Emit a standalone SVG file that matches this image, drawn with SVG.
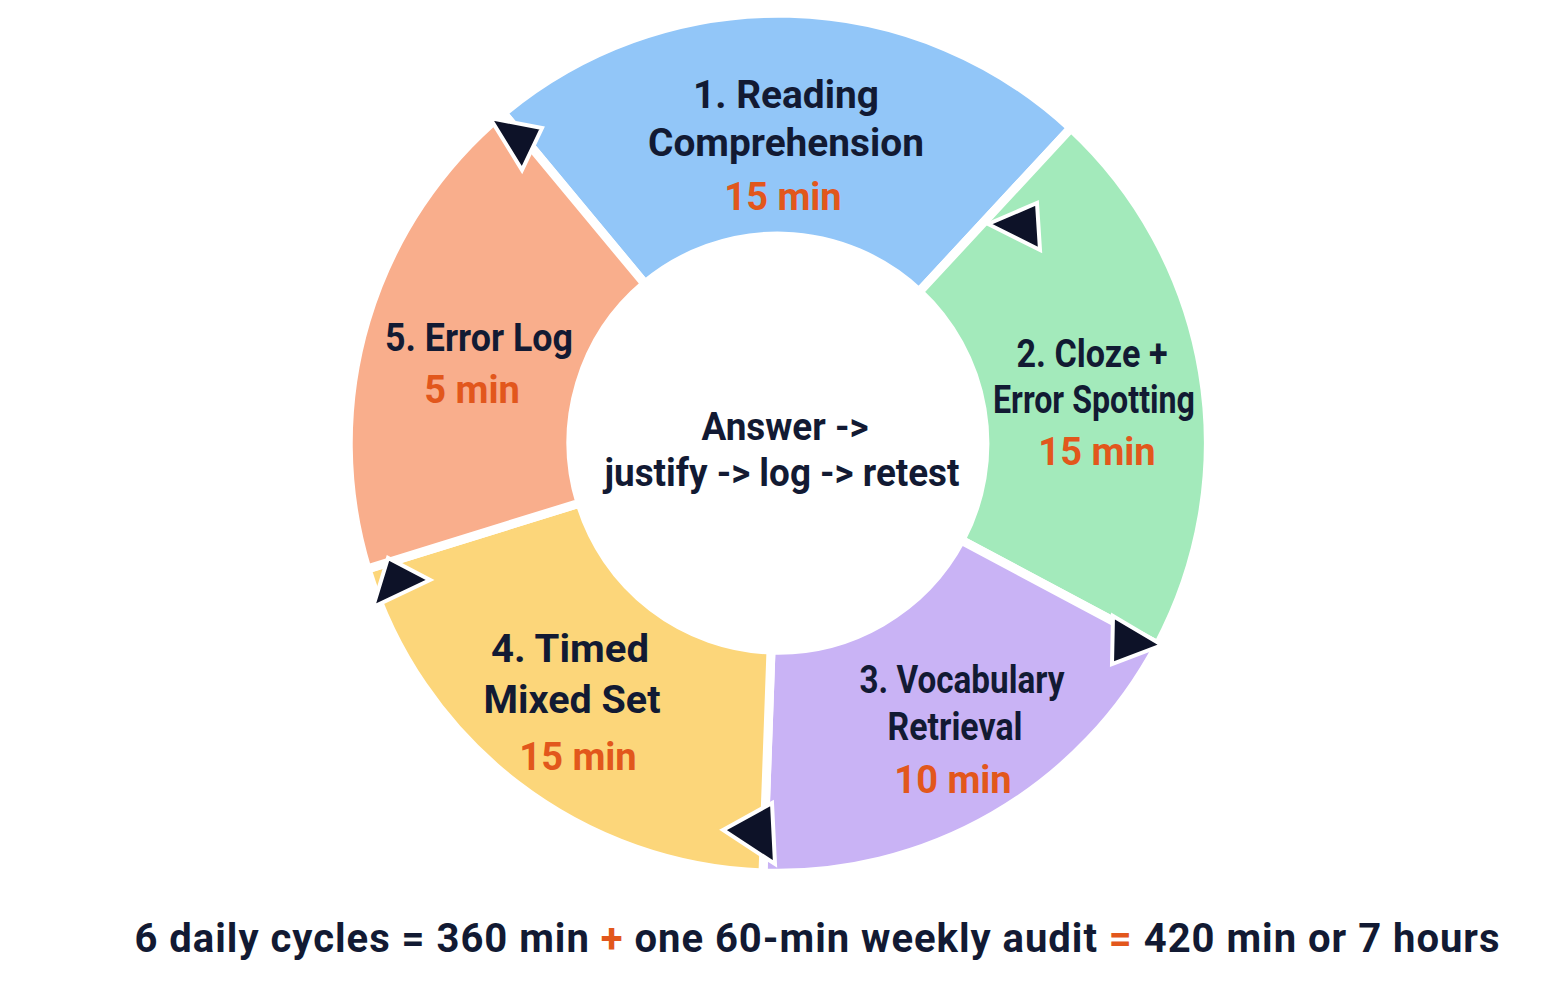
<svg xmlns="http://www.w3.org/2000/svg" width="1563" height="1006" viewBox="0 0 1563 1006">
<style>
.seg{stroke:#fff;stroke-width:9;stroke-linejoin:miter}
text{font-family:Roboto,"Liberation Sans",sans-serif;font-weight:bold;text-anchor:middle}
.t{fill:#121a33;font-size:38px}
.m{fill:#e2571c;font-size:38px}
.arr{fill:#0d1228;stroke:#fff;stroke-width:4}
</style>
<rect width="1563" height="1006" fill="#fff"/>
<g id="seg1"><path class="seg" fill="#92c6f8" d="M503,113 A430,430 0 0 1 1071,128 L919,292 A207,207 0 0 0 645,284 Z"/>
<text class="t" x="786" y="108" textLength="186" lengthAdjust="spacingAndGlyphs">1. Reading</text><text class="t" x="786" y="156" textLength="276" lengthAdjust="spacingAndGlyphs">Comprehension</text><text class="m" x="783" y="210">15 min</text></g>
<g id="seg2"><path class="seg" fill="#a3eabb" d="M1071,128 A430,430 0 0 1 1158,645 L961,540 A207,207 0 0 0 919,292 Z"/>
<text class="t" x="1092" y="367" textLength="151" lengthAdjust="spacingAndGlyphs">2. Cloze +</text><text class="t" x="1094" y="413" textLength="202" lengthAdjust="spacingAndGlyphs">Error Spotting</text><text class="m" x="1097" y="465">15 min</text></g>
<g id="seg3"><path class="seg" fill="#c9b3f5" d="M1158,645 A430,430 0 0 1 763,873 L771,650 A207,207 0 0 0 961,540 Z"/>
<text class="t" x="962" y="693" textLength="205" lengthAdjust="spacingAndGlyphs">3. Vocabulary</text><text class="t" x="955" y="740" textLength="135" lengthAdjust="spacingAndGlyphs">Retrieval</text><text class="m" x="953" y="793">10 min</text></g>
<g id="seg4"><path class="seg" fill="#fcd67a" d="M763,873 A430,430 0 0 1 367,569 L580,503 A207,207 0 0 0 771,650 Z"/>
<text class="t" x="570" y="662" textLength="158" lengthAdjust="spacingAndGlyphs">4. Timed</text><text class="t" x="572" y="713" textLength="177" lengthAdjust="spacingAndGlyphs">Mixed Set</text><text class="m" x="578" y="770">15 min</text></g>
<g id="seg5"><path class="seg" fill="#f9ae8c" d="M367,569 A430,430 0 0 1 503,113 L645,284 A207,207 0 0 0 580,503 Z"/>
<text class="t" x="479" y="351" textLength="188" lengthAdjust="spacingAndGlyphs">5. Error Log</text><text class="m" x="472" y="403">5 min</text></g>
<g id="center"><circle cx="778" cy="443" r="205" fill="#fff"/>
<text class="t" x="785" y="440" font-size="36" textLength="167" lengthAdjust="spacingAndGlyphs">Answer -&gt;</text><text class="t" x="782" y="486" font-size="36" textLength="355" lengthAdjust="spacingAndGlyphs">justify -&gt; log -&gt; retest</text></g>
<g id="connectors">
<polygon class="arr" points="490,118 542,128 522,170"/>
<polygon class="arr" points="988,224 1037,203 1040,250"/>
<polygon class="arr" points="1113,616 1162,645 1112,664"/>
<polygon class="arr" points="723,830 772,803 775,864"/>
<polygon class="arr" points="373,607 388,558 430,580"/>
</g>
<g id="footer">
<text x="817" y="952" textLength="1365" lengthAdjust="spacing" style="font-size:40px;fill:#121a33"><tspan>6 daily cycles = 360 min </tspan><tspan fill="#e2571c">+</tspan><tspan> one 60-min weekly audit </tspan><tspan fill="#e2571c">=</tspan><tspan> 420 min or 7 hours</tspan></text>
</g>
</svg>
